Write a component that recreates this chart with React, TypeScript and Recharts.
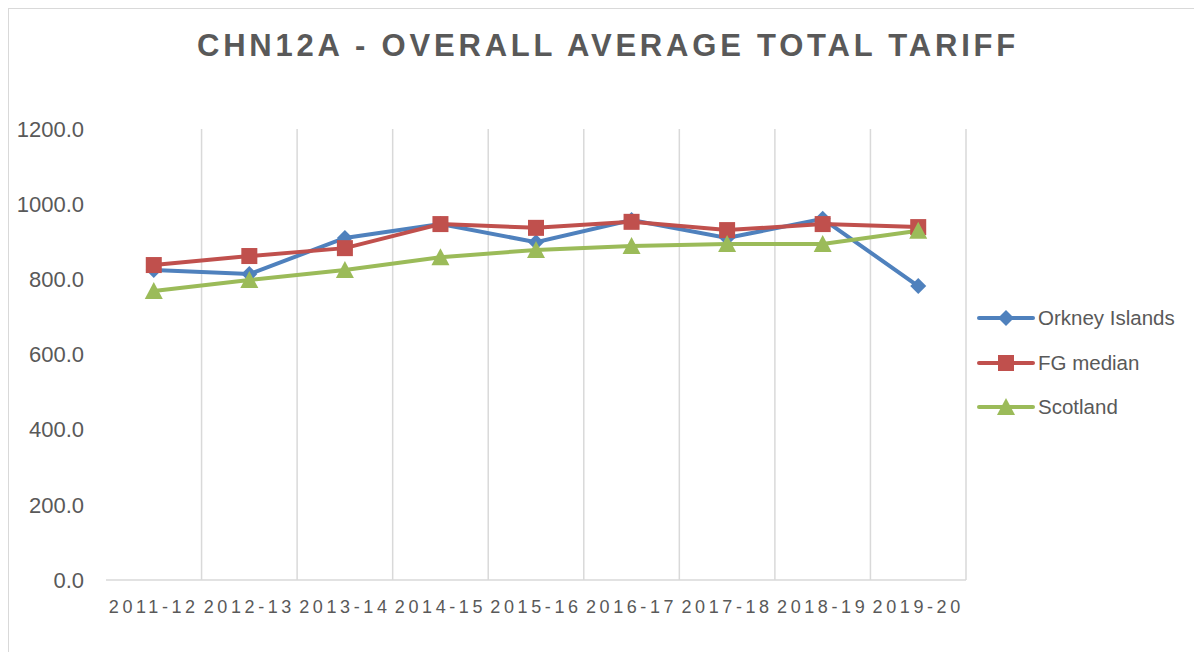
import React from "react";
import { LineChart, Line, XAxis, YAxis, CartesianGrid, Legend } from "recharts";

const years = ["2011-12", "2012-13", "2013-14", "2014-15", "2015-16", "2016-17", "2017-18", "2018-19", "2019-20"];
const orkney = [825, 814, 910, 947, 899, 958, 910, 961, 782];
const fgMedian = [838, 862, 883, 947, 937, 953, 931, 947, 939];
const scotland = [769, 798, 825, 859, 878, 889, 894, 894, 929];
const yTicks = [0, 200, 400, 600, 800, 1000, 1200];

const series = [
  { key: "orkney", name: "Orkney Islands", color: "#4f81bd", shape: "diamond" },
  { key: "fg", name: "FG median", color: "#c0504d", shape: "square" },
  { key: "scot", name: "Scotland", color: "#9bbb59", shape: "triangle" },
];

const data = years.map((y, i) => ({
  year: y,
  orkney: orkney[i],
  fg: fgMedian[i],
  scot: scotland[i],
}));

const TEXT = "#595959";
const FONT = "'Liberation Sans', Arial, sans-serif";

function Marker({ cx, cy, shape, color }: { cx: number; cy: number; shape: string; color: string }) {
  if (cx == null || cy == null) return null;
  if (shape === "diamond") {
    const r = 8;
    return <polygon points={`${cx},${cy - r} ${cx + r},${cy} ${cx},${cy + r} ${cx - r},${cy}`} fill={color} />;
  }
  if (shape === "square") {
    const r = 8;
    return <rect x={cx - r} y={cy - r} width={r * 2} height={r * 2} fill={color} />;
  }
  const r = 9;
  return <polygon points={`${cx},${cy - r} ${cx + r},${cy + r - 1} ${cx - r},${cy + r - 1}`} fill={color} />;
}

function LegendBox() {
  return (
    <div style={{ fontFamily: FONT, fontSize: 20.5, color: TEXT }}>
      {series.map((s) => (
        <div key={s.key} style={{ display: "flex", alignItems: "center", height: 44.5 }}>
          <svg width={58} height={20} style={{ marginRight: 3 }}>
            <line x1={2} y1={10} x2={56} y2={10} stroke={s.color} strokeWidth={4} strokeLinecap="round" />
            <Marker cx={29} cy={10} shape={s.shape} color={s.color} />
          </svg>
          <span>{s.name}</span>
        </div>
      ))}
    </div>
  );
}

export default function App() {
  return (
    <div
      style={{
        position: "relative",
        width: 1192,
        height: 643,
        borderLeft: "1px solid #d9d9d9",
        borderTop: "1px solid #d9d9d9",
        background: "#fff",
      }}
    >
      <div
        style={{
          position: "absolute",
          top: 19,
          left: 0,
          width: 1198,
          textAlign: "center",
          fontFamily: FONT,
          fontWeight: 700,
          fontSize: 31,
          letterSpacing: 3.8,
          color: TEXT,
        }}
      >
        CHN12A - OVERALL AVERAGE TOTAL TARIFF
      </div>
      <LineChart
        width={1192}
        height={643}
        data={data}
        margin={{ top: 120, right: 235, bottom: 42, left: 17 }}
      >
        <CartesianGrid
          horizontal={false}
          stroke="#d9d9d9"
          strokeWidth={1.5}
          verticalCoordinatesGenerator={({ offset }: any) =>
            years.map((_, i) => offset.left + ((i + 1) * offset.width) / years.length)
          }
        />
        <XAxis
          dataKey="year"
          scale="band"
          interval={0}
          height={30}
          stroke="#d9d9d9"
          strokeWidth={1.5}
          tickLine={false}
          tick={{ fill: TEXT, fontSize: 18, fontFamily: FONT, letterSpacing: 3.6 }}
          tickMargin={14}
        />
        <YAxis
          width={80}
          domain={[0, 1200]}
          ticks={yTicks}
          axisLine={false}
          tickLine={false}
          tickFormatter={(v: number) => v.toFixed(1)}
          tick={{ fill: TEXT, fontSize: 22, fontFamily: FONT }}
          tickMargin={16}
        />
        <Legend
          layout="horizontal"
          verticalAlign="middle"
          align="center"
          wrapperStyle={{ left: 968, top: 287, width: 224 }}
          content={() => <LegendBox />}
        />
        {series.map((s) => (
          <Line
            key={s.key}
            dataKey={s.key}
            name={s.name}
            stroke={s.color}
            strokeWidth={4}
            isAnimationActive={false}
            dot={(p: any) => <Marker key={`${s.key}-${p.index}`} cx={p.cx} cy={p.cy} shape={s.shape} color={s.color} />}
            activeDot={false}
          />
        ))}
      </LineChart>
    </div>
  );
}
